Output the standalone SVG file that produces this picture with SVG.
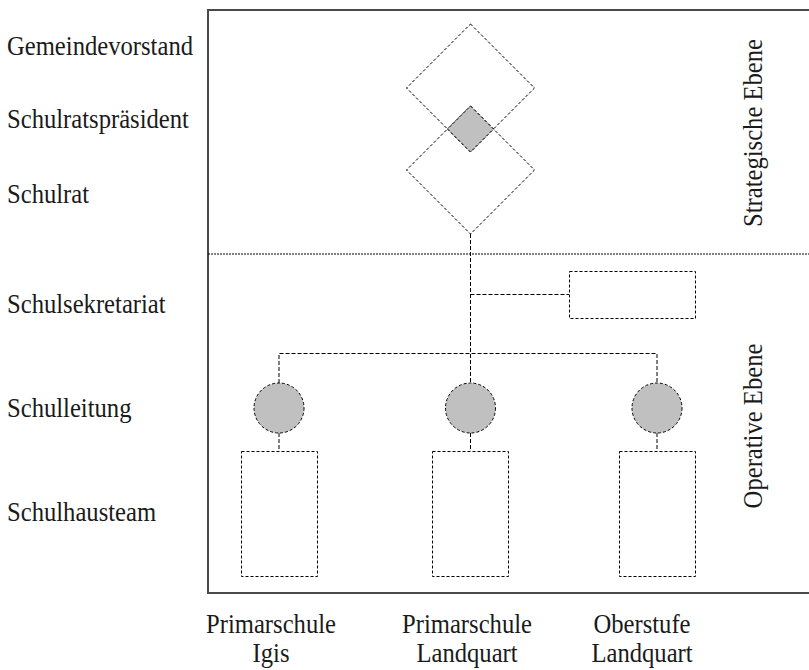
<svg xmlns="http://www.w3.org/2000/svg" width="809" height="670" viewBox="0 0 809 670">
<style>
text{font-family:"Liberation Serif","Times New Roman","DejaVu Serif",serif;font-size:28px;fill:#1a1a1a}
.mid{text-anchor:middle}
.dash{fill:none;stroke:#000;stroke-width:1;stroke-dasharray:4 2}
.dia{fill:none;stroke:#000;stroke-width:1;stroke-dasharray:3 2}
.grey{fill:#c0c0c0;stroke:#000;stroke-width:1;stroke-dasharray:3 2}
.box{fill:#fff;stroke:#000;stroke-width:1;stroke-dasharray:3 2}
</style>
<rect width="809" height="670" fill="#fff"/>
<g id="frame">
<path d="M809,10 H208 V593 H809" fill="none" stroke="#4a4a4a" stroke-width="2"/>
<line x1="208" y1="254" x2="809" y2="254" stroke="#000" stroke-width="1" stroke-dasharray="2 1"/>
</g>
<g id="connectors">
<line class="dash" x1="470.5" y1="234" x2="470.5" y2="383"/>
<line class="dash" x1="470.5" y1="294.5" x2="569" y2="294.5"/>
<path class="dash" d="M279,383 V353.5 H657 V383"/>
<line class="dash" x1="279" y1="433" x2="279" y2="451"/>
<line class="dash" x1="470.5" y1="433" x2="470.5" y2="451"/>
<line class="dash" x1="657" y1="433" x2="657" y2="451"/>
</g>
<g id="gemeindevorstand">
<polygon class="dia" points="470.5,24 534.5,88 470.5,152 406.5,88"/>
</g>
<g id="schulrat">
<polygon class="dia" points="470.5,106 534.5,170 470.5,234 406.5,170"/>
</g>
<g id="schulratspraesident">
<polygon class="grey" points="470.5,106 493.5,129 470.5,152 447.5,129"/>
</g>
<g id="schulsekretariat">
<rect class="box" x="569.5" y="271.5" width="126" height="47"/>
</g>
<g id="schulleitung-igis"><circle class="grey" cx="279" cy="408" r="25"/></g>
<g id="schulleitung-pl"><circle class="grey" cx="470.5" cy="408" r="25"/></g>
<g id="schulleitung-ol"><circle class="grey" cx="657" cy="408" r="25"/></g>
<g id="team-igis"><rect class="box" x="241.5" y="451.5" width="76" height="125"/></g>
<g id="team-pl"><rect class="box" x="432.5" y="451.5" width="76" height="125"/></g>
<g id="team-ol"><rect class="box" x="619.5" y="451.5" width="76" height="125"/></g>
<g id="labels" font-family="'Liberation Serif', serif">
<text transform="translate(7,55) scale(0.88,1)">Gemeindevorstand</text>
<text transform="translate(7,128) scale(0.88,1)">Schulratspräsident</text>
<text transform="translate(7,203) scale(0.88,1)">Schulrat</text>
<text transform="translate(7,313) scale(0.88,1)">Schulsekretariat</text>
<text transform="translate(7,417) scale(0.88,1)">Schulleitung</text>
<text transform="translate(7,521) scale(0.88,1)">Schulhausteam</text>
<text class="mid" transform="translate(271,633) scale(0.88,1)">Primarschule</text>
<text class="mid" transform="translate(271,662) scale(0.88,1)">Igis</text>
<text class="mid" transform="translate(467,633) scale(0.88,1)">Primarschule</text>
<text class="mid" transform="translate(467,662) scale(0.88,1)">Landquart</text>
<text class="mid" transform="translate(642,633) scale(0.88,1)">Oberstufe</text>
<text class="mid" transform="translate(642,662) scale(0.88,1)">Landquart</text>
<text class="mid" transform="translate(762,133) rotate(-90) scale(0.88,1)">Strategische Ebene</text>
<text class="mid" transform="translate(762,426) rotate(-90) scale(0.88,1)">Operative Ebene</text>
</g>
</svg>
